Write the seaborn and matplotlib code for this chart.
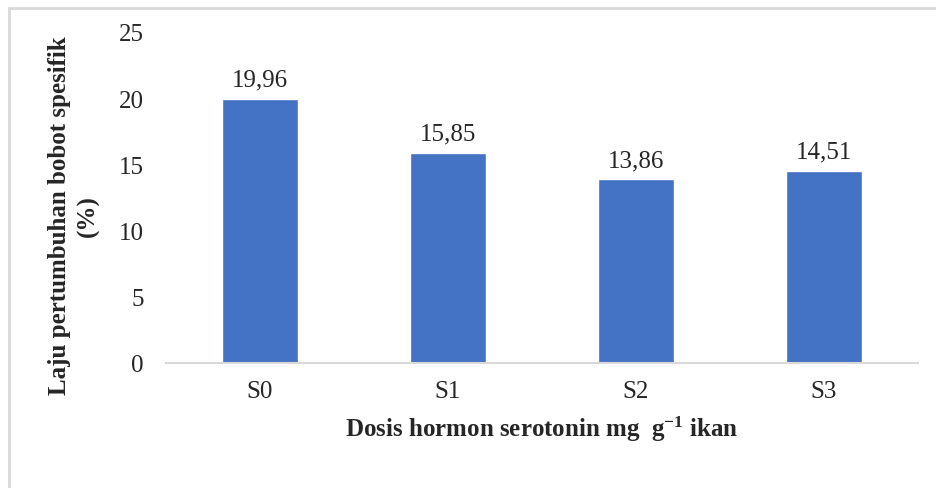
import numpy as np
import pandas as pd
import matplotlib.pyplot as plt
import seaborn as sb
from matplotlib.lines import Line2D

# data
perlakuan = ['S0', 'S1', 'S2', 'S3']
laju = [19.96, 15.85, 13.86, 14.51]

df = pd.DataFrame({'perlakuan': perlakuan, 'laju': laju})

sb.set_style('white')
plt.rcParams['font.family'] = ['Liberation Serif', 'DejaVu Serif']
plt.rcParams['mathtext.fontset'] = 'custom'
plt.rcParams['mathtext.rm'] = 'Liberation Serif:bold'
plt.rcParams['mathtext.default'] = 'rm'

fig = plt.figure(figsize=(9.36, 4.89), dpi=100)
ax = fig.add_axes([166/936, 1-364/489, 752/936, 331/489])

sb.barplot(data=df, x='perlakuan', y='laju', color='#4472C4', saturation=1,
           width=0.405, ax=ax)

# label nilai pakai koma
ax.bar_label(ax.containers[0], labels=[f'{v:.2f}'.replace('.', ',') for v in laju],
             padding=6, fontsize=18)

ax.set_ylim(0, 25)
ax.set_yticks([0, 5, 10, 15, 20, 25])
ax.tick_params(axis='both', length=0, labelsize=18)
ax.tick_params(axis='y', pad=16)
ax.tick_params(axis='x', pad=12)

for s in ['top', 'right', 'left']:
    ax.spines[s].set_visible(False)
ax.spines['bottom'].set_color('#D9D9D9')
ax.spines['bottom'].set_linewidth(1.5)

ax.set_xlabel('Dosis hormon serotonin mg  g$^{-1}$ ikan', fontsize=18, fontweight='bold')
ax.set_ylabel('Laju pertumbuhan bobot spesifik\n(%)', fontsize=18, fontweight='bold',
              linespacing=1.3)
ax.xaxis.set_label_coords(0.5, -0.152)
ax.yaxis.set_label_coords(-0.088, 0.447)

# bingkai luar
fig.add_artist(Line2D([9/936, 1], [1-9/489, 1-9/489], color='#D9D9D9', lw=2))
fig.add_artist(Line2D([9/936, 9/936], [0, 1-9/489], color='#D9D9D9', lw=2))

plt.savefig('out.png', dpi=100)
